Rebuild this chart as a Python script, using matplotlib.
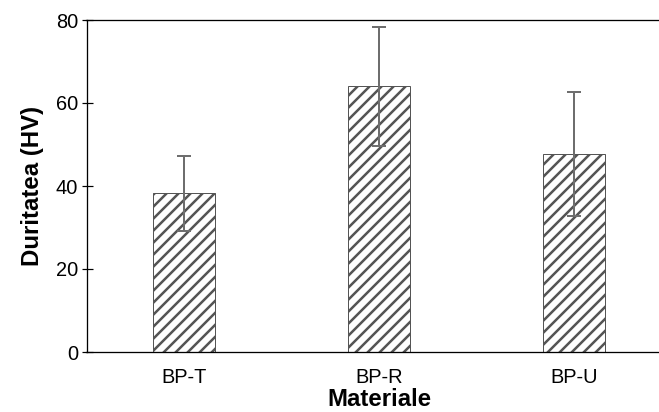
import numpy as np
import matplotlib.pyplot as plt

plt.rcParams['font.family'] = ['Liberation Sans', 'DejaVu Sans']
plt.rcParams['hatch.linewidth'] = 2.5
plt.rcParams['hatch.color'] = '#7a7a7a'

materiale = ['BP-T', 'BP-R', 'BP-U']
duritate = [38.2, 64.0, 47.7]
abatere = [9.0, 14.4, 15.0]

fig = plt.figure(figsize=(659 / 72, 412 / 72), dpi=72)
ax = fig.add_axes([86.5 / 659, 60 / 412, 585 / 659, 332 / 412])

x = np.arange(len(materiale))
ax.bar(x, duritate, width=0.32, color='white', edgecolor='#555555',
       linewidth=1.0, hatch='//', zorder=2)
ax.errorbar(x, duritate, yerr=abatere, fmt='none', ecolor='#6e6e6e',
            elinewidth=2, capsize=7, capthick=2, zorder=3)

ax.set_xlim(-0.5, 2.5)
ax.set_ylim(0, 80)
ax.set_yticks([0, 20, 40, 60, 80])
ax.set_xticks(x)
ax.set_xticklabels(materiale)

for s in ['left', 'bottom', 'top']:
    ax.spines[s].set_linewidth(1.3)
    ax.spines[s].set_color('black')
ax.spines['right'].set_visible(False)

ax.tick_params(axis='y', direction='inout', length=11, width=1.2,
               labelsize=20, pad=3)
ax.tick_params(axis='x', length=0, labelsize=20, pad=16)

ax.set_xlabel('Materiale', fontsize=24, fontweight='bold', labelpad=1)
ax.set_ylabel('Duritatea (HV)', fontsize=24, fontweight='bold', labelpad=12)

fig.savefig('out.png', dpi=72)
